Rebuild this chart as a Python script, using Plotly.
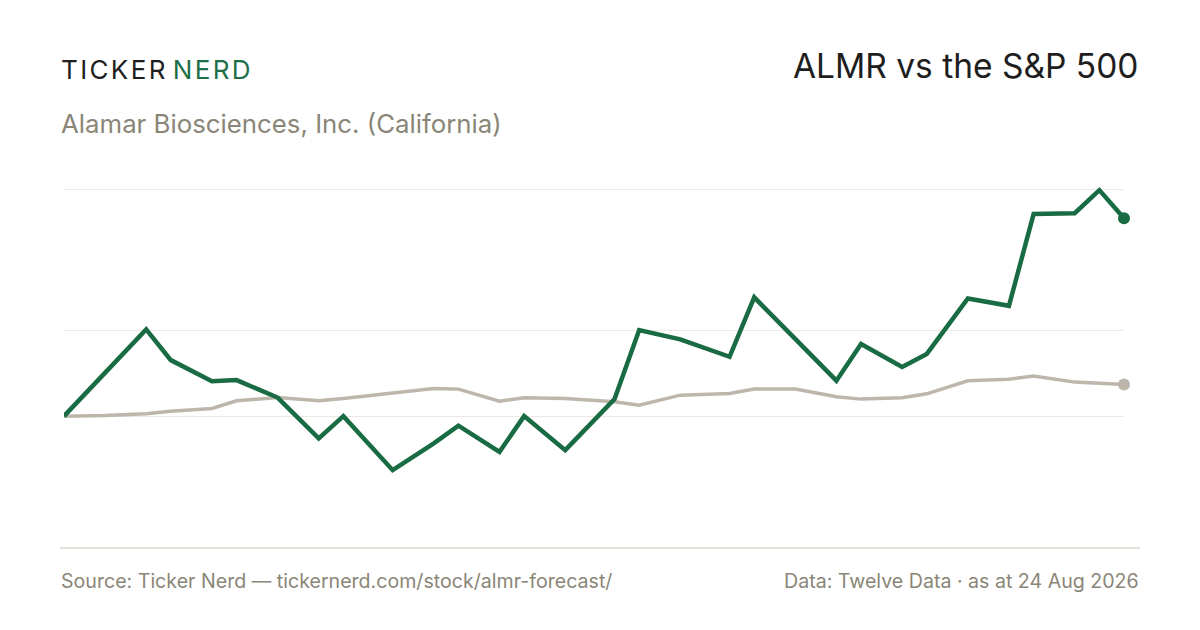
import plotly.graph_objects as go

# ---- data ----
dates = [
    "2026-04-17", "2026-04-22", "2026-04-27", "2026-04-30", "2026-05-05",
    "2026-05-08", "2026-05-13", "2026-05-18", "2026-05-21", "2026-05-27",
    "2026-06-01", "2026-06-04", "2026-06-09", "2026-06-12", "2026-06-17",
    "2026-06-23", "2026-06-26", "2026-07-01", "2026-07-07", "2026-07-10",
    "2026-07-15", "2026-07-20", "2026-07-23", "2026-07-28", "2026-07-31",
    "2026-08-05", "2026-08-10", "2026-08-13", "2026-08-18", "2026-08-21",
    "2026-08-24",
]
almr_close = [
    6.94, 8.47, 10.02, 8.93, 8.18,
    8.22, 7.60, 6.15, 6.94, 5.02,
    5.97, 6.60, 5.67, 6.94, 5.73,
    7.55, 10.00, 9.67, 9.05, 11.16,
    9.66, 8.20, 9.50, 8.69, 9.15,
    11.12, 10.86, 14.12, 14.15, 14.97,
    13.97,
]
spx_close = [
    6500, 6517, 6583, 6660, 6756,
    7009, 7122, 7009, 7089, 7256,
    7422, 7399, 6999, 7109, 7089,
    6976, 6866, 7199, 7256, 7399,
    7399, 7142, 7066, 7109, 7242,
    7675, 7731, 7831, 7632, 7598,
    7555,
]
grid_prices = [10, 15]

# S&P rebased to ALMR's starting price
spx_rebased = [v / spx_close[0] * almr_close[0] for v in spx_close]

GREEN = "#186b43"
GREY_LINE = "#bdb6ab"
MUTED = "#8a8677"
GRID = "#ece9e3"

OFF = 8  # page body margin
W, H = 1200, 630
# target plot box in screen pixels
X0, X1, Y0, Y1 = 64, 1124, 180, 500
L, R, T, B = X0 - OFF, W - (X1 - OFF), Y0 - OFF, H - (Y1 - OFF)
PW, PH = X1 - X0, Y1 - Y0


def px(x):
    return (x - X0) / PW


def py(y):
    return (Y1 - y) / PH


HS = "\u200a"
brand_a = HS.join("TICKER")
brand_b = HS.join("NERD")

fig = go.Figure()
fig.add_trace(go.Scatter(
    x=dates, y=spx_rebased, mode="lines",
    line=dict(color=GREY_LINE, width=3.5), hoverinfo="skip", cliponaxis=False,
))
fig.add_trace(go.Scatter(
    x=dates[-1:], y=spx_rebased[-1:], mode="markers",
    marker=dict(color=GREY_LINE, size=12), hoverinfo="skip", cliponaxis=False,
))
fig.add_trace(go.Scatter(
    x=dates, y=almr_close, mode="lines",
    line=dict(color=GREEN, width=4.5), hoverinfo="skip", cliponaxis=False,
))
fig.add_trace(go.Scatter(
    x=dates[-1:], y=almr_close[-1:], mode="markers",
    marker=dict(color=GREEN, size=12), hoverinfo="skip", cliponaxis=False,
))

fig.update_layout(
    width=W, height=H,
    margin=dict(l=L, r=R, t=T, b=B),
    paper_bgcolor="white", plot_bgcolor="white",
    showlegend=False,
    font=dict(family="Inter, Liberation Sans, sans-serif"),
    xaxis=dict(range=[dates[0], dates[-1]], showgrid=False, zeroline=False,
               showline=False, showticklabels=False, ticks=""),
    yaxis=dict(range=[3.96, 15.33], tickvals=[almr_close[0]] + grid_prices,
               showgrid=True, gridcolor=GRID, gridwidth=1.2, zeroline=False,
               showline=False, showticklabels=False, ticks=""),
    shapes=[dict(type="line", xref="paper", yref="paper",
                 x0=px(60), x1=px(1140), y0=py(548), y1=py(548),
                 line=dict(color="#dedad1", width=1.5))],
    annotations=[
        dict(text=brand_a + " <span style='color:#1d7049'>" + brand_b + "</span>",
             x=px(59), y=py(69.5), xref="paper", yref="paper",
             xanchor="left", yanchor="middle", showarrow=False,
             font=dict(size=26, color="#1e1e1e", family="Inter")),
        dict(text="ALMR vs the S&amp;P 500",
             x=px(1140), y=py(66.5), xref="paper", yref="paper",
             xanchor="right", yanchor="middle", showarrow=False,
             font=dict(size=33.5, color="#1e1e1e", family="Inter")),
        dict(text="Alamar Biosciences, Inc. (California)",
             x=px(59), y=py(123.5), xref="paper", yref="paper",
             xanchor="left", yanchor="middle", showarrow=False,
             font=dict(size=25.8, color=MUTED, family="Inter")),
        dict(text="Source: Ticker Nerd — tickernerd.com/stock/almr-forecast/",
             x=px(59), y=py(580.5), xref="paper", yref="paper",
             xanchor="left", yanchor="middle", showarrow=False,
             font=dict(size=19.6, color=MUTED, family="Inter")),
        dict(text="Data: Twelve Data · as at 24 Aug 2026",
             x=px(1141), y=py(580.5), xref="paper", yref="paper",
             xanchor="right", yanchor="middle", showarrow=False,
             font=dict(size=19.6, color=MUTED, family="Inter")),
    ],
)

fig.write_html("out.html")
